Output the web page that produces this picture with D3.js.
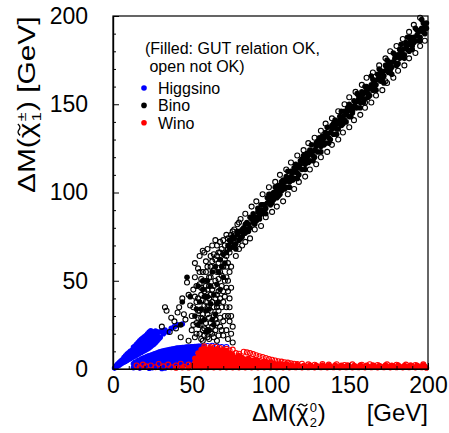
<!DOCTYPE html>
<html><head><meta charset="utf-8">
<script src="https://cdn.jsdelivr.net/npm/d3@7"></script>
<style>
html,body{margin:0;padding:0;background:#fff;}
text{font-family:"Liberation Sans",Arial,Helvetica,sans-serif;fill:#000;}
</style></head>
<body>
<svg id="c" width="449" height="433"></svg>
<script>
// ---- data (ΔM(χ2^0), ΔM(χ1^±)) in GeV ----
const xTicks = [0, 50, 100, 150, 200];
const yTicks = [0, 50, 100, 150, 200];
const legendLabels = ["Higgsino", "Bino", "Wino"];
const legendNote = ["(Filled: GUT relation OK,", " open not OK)"];

const higgsinoFilled = [
[1,0.5],[2,1],[2,1.8],[3,2],[3,2.8],[4,2.2],[4,3.6],[5,3],[5,4.5],[6,3.5],[6,5.2],[7,4],[7,5.5],[7,6.5],
[8,4.4],[8,6],[8,7.5],[9,5],[9,6.8],[9,8.4],[10,5.5],[10,7.4],[10,9.2],[11,6],[11,8],[11,10],[12,6.5],[12,8.5],[12,10.5],
[13,7],[13,9],[13,11],[13,12.3],[14,7.5],[14,9.8],[14,11.8],[14,13],[15,8],[15,10.3],[15,12.4],[15,14],
[16,8.5],[16,11],[16,13],[16,15],[17,9],[17,11.5],[17,13.8],[17,16],[18,9.5],[18,12],[18,14.5],[18,16.8],
[19,10],[19,12.6],[19,15],[19,17.5],[20,10.5],[20,13.2],[20,15.8],[20,18.2],[21,11],[21,14],[21,16.5],[21,19],
[22,11.5],[22,14.6],[22,17.2],[22,20],[23,12],[23,15],[23,18],[23,21],[24,12.8],[24,16],[24,19.5],[24,21.6],
[25,13.5],[25,17],[25,20.5],[26,14.2],[26,18],[26,21],[27,15],[27,19],[27,21.5],[28,16],[28,20],
[29,17],[29,21],[30,18],[31,21.5],[32,20],[33,22],[35,21],[37,23],[39,24],[41,25],[44,25.5],
[13,3],[13,0.8],[15,4],[15,1.5],[17,5],[17,2.5],[17,0.5],[19,6],[19,3.5],[19,1],[21,6.8],[21,4.2],[21,1.6],
[23,7.5],[23,5],[23,2.4],[23,0.4],[25,8],[25,5.6],[25,3],[25,0.8],[27,8.8],[27,6.2],[27,3.6],[27,1.2],
[29,9.4],[29,6.8],[29,4.2],[29,1.6],[31,10],[31,7.4],[31,4.8],[31,2.2],[31,0.3],[33,10.4],[33,7.8],[33,5.2],[33,2.6],[33,0.6],
[35,10.8],[35,8.2],[35,5.6],[35,3],[35,1],[37,11.2],[37,8.6],[37,6],[37,3.4],[37,1.2],[39,11.5],[39,9],[39,6.4],[39,3.8],[39,1.4],
[41,11.8],[41,9.3],[41,6.8],[41,4.2],[41,1.6],[43,12],[43,9.6],[43,7],[43,4.5],[43,2],[45,12.2],[45,9.8],[45,7.2],[45,4.8],[45,2.2],
[47,12.4],[47,10],[47,7.4],[47,5],[47,2.4],[49,12.5],[49,10.2],[49,7.6],[49,5.2],[51,12.6],[51,10.3],[51,7.8],[53,12.7],[53,10.4],[55,12.8],[57,12.8],
[14,3.8],[16,4.8],[18,5.6],[20,6.4],[22,7.2],[24,7.8],[26,8.5],[28,9.1],[30,9.7],[32,10.2],[34,10.6],[36,11],[38,11.3],[40,11.7],
[42,11.9],[44,12.1],[46,12.3],[48,12.4],[50,12.6],[52,12.7],[54,12.8],[56,12.8],
[14,1.5],[16,2.8],[18,3.6],[20,4],[22,4.6],[24,5.3],[26,6],[28,6.5],[30,7],[32,7.6],[34,8],[36,8.4],[38,8.8],[40,9.2],[42,9.4],
[44,9.6],[46,9.9],[48,10],[50,10.2],[20,1.8],[22,2],[24,2.5],[26,3.2],[28,3.8],[30,4.5],[32,5],[34,5.4],[36,5.8],[38,6.2],
[40,6.6],[42,7],[44,7.3],[46,7.5],[48,7.7],[30,1.5],[34,2.2],[38,2.6],[42,3],[46,3.2],[50,5]
];
const higgsinoOpen = [
[60,13],[63,13.2],[66,12.8],[69,12.5],[72,12.5],[38,7],[42,7.5],[46,6.8],[50,7.5],[53,6],[56,8],[44,4.5],[36,2]
];

const binoFilled = [
[72,66],[73,70],[74,68],[75,72],[76,69],[77,74],[78,71],[79,76],[80,73],[81,78],[82,75],[83,80],[84,77],[85,79],[86,82],
[87,80],[88,85],[89,83],[90,86],[91,84],[92,89],[93,87],[94,90],[95,88],[96,93],[97,91],[98,94],[99,96],[100,93],[101,98],
[102,96],[103,99],[104,101],[105,98],[106,103],[107,101],[108,104],[109,106],[110,103],[111,108],[112,106],[113,109],[114,111],
[115,108],[116,113],[117,111],[118,114],[119,116],[120,113],[121,118],[122,116],[123,119],[124,121],[125,118],[126,123],[127,121],
[128,124],[129,126],[130,123],[131,128],[132,126],[133,129],[134,131],[135,128],[136,133],[137,131],[138,134],[139,136],[140,133],
[141,138],[142,136],[143,139],[144,141],[145,138],[146,143],[147,141],[148,144],[149,146],[150,143],[151,148],[152,146],[153,149],
[154,151],[155,148],[156,153],[157,151],[158,154],[159,156],[160,153],[161,158],[162,156],[163,159],[164,161],[165,158],[166,163],
[167,161],[168,164],[169,166],[170,163],[171,168],[172,166],[173,169],[174,171],[175,168],[176,173],[177,171],[178,174],[179,176],
[180,173],[181,178],[182,176],[183,179],[184,181],[185,178],[186,183],[187,181],[188,184],[189,186],[190,183],[191,188],[192,186],
[193,189],[194,191],[195,188],[196,193],[197,191],[198,194],[199,196],
[74,73],[77,70],[79,78],[83,77],[84,82],[87,86],[90,82],[92,91],[95,93],[97,88],[99,99],[102,100],[104,97],[107,106],[109,102],
[111,112],[114,107],[116,116],[118,110],[121,121],[124,117],[126,127],[128,120],[131,131],[134,127],[136,137],[138,130],[141,141],
[143,136],[145,146],[148,140],[150,150],[152,145],[155,156],[157,148],[160,160],[162,154],[164,166],[167,158],[169,170],[171,164],
[174,175],[176,169],[178,179],[180,172],[183,184],[185,176],[187,188],[190,181],[192,193],[194,186],[196,198],[198,190],
[76,75],[78,68],[81,74],[82,79],[85,83],[86,78],[89,88],[91,86],[93,85],[94,93],[96,89],[98,97],[100,99],[101,94],[103,103],
[105,104],[106,99],[108,107],[110,109],[112,103],[113,112],[115,114],[117,108],[119,118],[120,119],[122,113],[123,122],[125,124],
[127,118],[129,128],[130,129],[132,123],[133,132],[135,134],[137,128],[139,138],[140,139],[142,133],[144,143],[146,139],[147,146],
[149,148],[151,143],[153,152],[154,148],[156,155],[158,157],[159,151],[161,160],[163,155],[165,164],[166,160],[168,167],[170,169],
[172,162],[173,172],[175,174],[177,167],[179,178],[181,173],[182,181],[184,177],[186,185],[188,180],[189,188],[191,185],[193,192],
[195,186],[197,196],[199,193],
[52,30],[54,25],[55,38],[57,45],[58,28],[59,33],[60,50],[61,22],[62,37],[63,55],[64,42],[65,31],[66,48],[67,38],[68,62],
[69,58],[70,65],[56,34],[60,41],[63,28],[54,47],[44,38],[47,52],[43,25],[49,41],
[53,34],[56,27],[58,41],[59,21],[61,34],[62,47],[64,25],[65,58],[66,37],[67,55],[68,45],[70,52],[71,60],[57,50]
];
const binoOpen = [
[76,78],[80,83],[84,88],[88,92],[91,95],[95,99],[99,103],[103,106],[106,110],[110,113],[113,117],[117,121],[121,124],[124,128],
[128,131],[132,135],[135,139],[139,142],[143,146],[147,150],[150,154],[154,157],[158,161],[161,165],[165,168],[169,172],[173,176],
[176,180],[180,183],[184,187],[188,191],[191,195],[195,199],
[80,68],[84,72],[87,74],[90,79],[94,81],[97,86],[101,89],[104,92],[108,95],[111,99],[115,102],[118,106],[122,109],[125,113],
[129,116],[132,120],[136,123],[139,127],[143,130],[146,134],[150,137],[153,141],[157,144],[160,148],[164,151],[167,155],[171,158],
[174,162],[178,165],[181,169],[185,172],[188,176],[192,179],[195,183],[198,186],[173,163],[160,151],
[31,24],[34,33],[33,35],[39,27],[42,35],[44,40],[46,28],[47,49],[48,42],[49,36],[50,30],[50,22],[51,45],[52,52],[52,18],[53,38],
[53,26],[54,57],[54,33],[55,48],[55,20],[56,42],[56,29],[57,55],[57,16],[58,36],[58,23],[59,47],[59,61],[60,31],[60,18],[61,52],
[61,40],[62,26],[62,58],[63,45],[63,20],[64,35],[64,65],[65,50],[65,28],[66,42],[66,16],[67,60],[67,33],[68,55],[68,24],[69,47],
[69,68],[70,38],[70,19],[71,62],[71,30],[72,52],[72,22],[73,44],[73,17],[74,35],[74,27],[75,20],[75,58],[76,15],[70,73],[72,76],
[66,70],[62,64],[58,66],[45,31],[41,32],[37,29],[36,21],[40,23],[43,18],[48,16],
[52,60],[55,64],[57,67],[60,68],[63,70],[65,73],[67,66],[68,72],[71,70],[73,74],[75,76],[77,79],[79,82],[81,85],[78,64],[82,70],
[74,40],[75,30],[76,24],[73,50],[72,58],[75,46],
[51,25],[51,35],[52,41],[53,47],[53,20],[54,29],[54,40],[55,25],[55,33],[55,55],[56,17],[56,46],[56,51],[57,22],[57,31],[57,39],
[58,19],[58,44],[58,50],[59,26],[59,38],[59,55],[60,22],[60,35],[60,45],[60,58],[61,17],[61,29],[61,47],[62,21],[62,33],[62,42],
[62,52],[63,24],[63,38],[63,61],[64,18],[64,30],[64,47],[64,56],[65,22],[65,40],[65,62],[66,26],[66,35],[66,55],[66,64],[67,19],
[67,44],[67,51],[68,29],[68,40],[68,66],[69,22],[69,35],[69,53],[70,27],[70,44],[70,58],[71,41],[71,50],[71,66],[72,35],[72,46],
[72,64],[73,30],[73,60],[74,55],[74,66],[76,70],[73,68]
];

const winoFilled = [
[52,1],[52,3.5],[52,6],[54,1.5],[54,4],[54,6.5],[54,9],[56,0.8],[56,3.2],[56,5.8],[56,8.4],[56,11],
[58,1.5],[58,4],[58,6.5],[58,9],[58,11.8],[60,0.8],[60,3.2],[60,5.8],[60,8.4],[60,11],[62,1.5],[62,4],[62,6.5],[62,9],[62,11.8],
[64,0.8],[64,3.2],[64,5.8],[64,8.4],[64,11],[66,1.5],[66,4],[66,6.5],[66,9],[66,11.5],[68,0.8],[68,3.2],[68,5.8],[68,8.4],[68,10.8],
[70,1.5],[70,4],[70,6.5],[70,9],[70,11],[72,0.8],[72,3.2],[72,5.8],[72,8.4],[72,10.5],[74,1.5],[74,4],[74,6.5],[74,9],
[76,0.8],[76,3.2],[76,5.8],[76,8.2],[78,1.5],[78,4],[78,6.5],[80,0.8],[80,3.2],[80,5.8],[80,7.6],[82,1.5],[82,4],[82,6.5],
[84,0.8],[84,3.2],[84,5.5],[86,1.5],[86,4],[86,6],[88,0.8],[88,3.2],[88,5],[90,1.5],[90,3.8],[90,5.2],[92,0.8],[92,3],[92,4.6],
[94,1.5],[94,3.6],[96,0.8],[96,3],[96,4.4],[98,1.5],[98,3.5],[100,0.8],[100,2.8],[100,4],[102,1.5],[102,3.2],[104,0.8],[104,2.6],
[106,1.5],[106,3],[108,0.8],[108,2.4],[110,1.5],[110,2.8],
[112,0.8],[114,1.6],[116,0.9],[118,1.7],[120,0.8],[122,1.6],[124,0.9],[126,1.5],[128,0.8],[130,1.6],[132,0.9],[134,1.5],[136,0.8],
[138,1.6],[140,0.9],[142,1.5],[144,0.8],[146,1.6],[148,0.9],[150,1.5],[152,0.8],[154,1.6],[156,0.9],[158,1.5],[160,0.8],[162,1.6],
[164,0.9],[166,1.5],[168,0.8],[170,1.6],[172,0.9],[174,1.5],[176,0.8],[178,1.6],[180,0.9],[182,1.5],[184,0.8],[186,1.6],[188,0.9],
[190,1.5],[192,0.8],[194,1.6],[196,0.9],[198,1.5],[199,0.6],
[113,2.2],[117,2.4],[121,2],[125,2.3],[129,2.1],[133,2.2],[137,2],[141,2.3],[145,2.1],[149,2.2],[153,2],[157,2.3],[161,2.1],
[165,2.2],[169,2],[173,2.3],[177,2.1],[181,2.2],[185,2],[189,2.3],[193,2.1],[197,2.2],
[40,0.6],[44,0.8],[48,0.7],[50,2]
];
const winoOpen = [
[15,2],[17,1],[19,2.5],[21,1.5],[24,2],[27,1],[29,2.8],[32,1.5],[35,2.5],[37,1],[40,2],[43,3],[45,1.2],[48,2.5],[50,1],[53,2],
[56,6],[58,12.8],[60,10],[62,12.5],[64,9],[65,12.6],[67,7],[68,11.8],[70,8],[72,11.4],[74,10.5],[76,11],[78,9],[80,8.6],
[83,9.8],[85,9.4],[87,9],[89,8.4],[91,7.8],[93,7.2],[95,6.8],[97,6.2],[99,5.6],[101,5.2],[103,4.8],[105,4.4],[107,4.2],[109,3.8],
[111,3.6],[113,3.2],[115,3],[117,2.8],
[120,3],[124,2.6],[128,2.4],[133,2.8],[137,2.5],[142,2.7],[147,2.3],[152,2.6],[158,2.4],[163,2.7],[168,2.3],[174,2.6],[180,2.4],
[186,2.5],[192,2.3],[197,2.6]
];

const seriesColors = {Higgsino: "#0000ff", Bino: "#000000", Wino: "#ff0000"};

// ---- drawing ----
const svg = d3.select("#c");
const x = d3.scaleLinear().domain([0, 200]).range([113, 428]);
const y = d3.scaleLinear().domain([0, 200]).range([369, 16]);

const plot = svg.append("g");
function openPts(data, col) {
  plot.append("g").selectAll("circle").data(data).join("circle")
    .attr("cx", d => x(d[0])).attr("cy", d => y(d[1])).attr("r", 2.5)
    .attr("fill", "none").attr("stroke", col).attr("stroke-width", 1.1);
}
function filledPts(data, col) {
  plot.append("g").selectAll("circle").data(data).join("circle")
    .attr("cx", d => x(d[0])).attr("cy", d => y(d[1])).attr("r", 2.8)
    .attr("fill", col);
}
filledPts(higgsinoFilled, seriesColors.Higgsino);
openPts(higgsinoOpen, seriesColors.Higgsino);
openPts(binoOpen, seriesColors.Bino);
filledPts(binoFilled, seriesColors.Bino);
filledPts(winoFilled, seriesColors.Wino);
openPts(winoOpen, seriesColors.Wino);

// frame
svg.append("rect").attr("x", 113).attr("y", 16).attr("width", 315).attr("height", 353)
  .attr("fill", "none").attr("stroke", "#000").attr("stroke-width", 1.2);

const minor = d3.range(0, 201, 10).filter(v => v % 50 !== 0);
svg.append("g").attr("transform", "translate(0,369)")
  .call(d3.axisBottom(x).tickValues(xTicks).tickSize(-6).tickSizeOuter(0).tickPadding(8).tickFormat(d3.format("d")));
svg.append("g").attr("transform", "translate(0,369)")
  .call(d3.axisBottom(x).tickValues(minor).tickSize(-3).tickSizeOuter(0).tickFormat(""));
svg.append("g").attr("transform", "translate(113,0)")
  .call(d3.axisLeft(y).tickValues(yTicks).tickSize(-6).tickSizeOuter(0).tickPadding(25).tickFormat(d3.format("d")));
svg.append("g").attr("transform", "translate(113,0)")
  .call(d3.axisLeft(y).tickValues(minor).tickSize(-3).tickSizeOuter(0).tickFormat(""));
svg.selectAll(".domain").attr("stroke-width", 1.2);
svg.selectAll(".tick line").attr("stroke-width", 1);
svg.selectAll(".tick text").attr("font-size", 23)
  .attr("font-family", '"Liberation Sans",Arial,sans-serif').attr("fill", "#000");

// ---- axis titles: ΔM(χ̃ ^sup _sub) ----
function textW(str, fs) {
  const t = svg.append("text").attr("font-size", fs).text(str);
  const w = t.node().getComputedTextLength();
  t.remove();
  return w;
}
function chiTitle(g, x0, y0, sup, sub, tail) {
  const t = g.append("text").attr("x", x0).attr("y", y0).attr("font-size", 24);
  t.append("tspan").text("ΔM(");
  t.append("tspan").text("χ");
  const wSup = textW(sup, 13);
  t.append("tspan").attr("font-size", 13).attr("dx", 1).attr("dy", -9).text(sup);
  t.append("tspan").attr("font-size", 13).attr("dx", -wSup).attr("dy", 15).text(sub);
  t.append("tspan").attr("dy", -6).attr("dx", 1).text(")" + tail);
  // tilde over χ drawn as a small curve
  const e = t.node().getExtentOfChar(3);
  const cx = e.x + e.width / 2 + 0.5, ty = y0 - 16;
  g.append("path")
    .attr("d", `M${cx - 4.5},${ty + 1.2} Q${cx - 2.4},${ty - 2.4} ${cx},${ty} T${cx + 4.5},${ty - 1.2}`)
    .attr("fill", "none").attr("stroke", "#000").attr("stroke-width", 1.3);
  return t;
}

// x title
const gxT = svg.append("g");
chiTitle(gxT, 252, 421, "0", "2", "");
gxT.append("text").attr("x", 428).attr("y", 421).attr("text-anchor", "end").attr("font-size", 24).text("[GeV]");

// y title (rotated, stretched along its length to the reference's extent)
const gyOuter = svg.append("g");
const gyT = gyOuter.append("g");
const ytText = chiTitle(gyT, 0, 0, "±", "1", " [GeV]");
const yW = ytText.node().getComputedTextLength();
gyOuter.attr("transform", `translate(35,193) rotate(-90) scale(${183 / yW},1)`);

// legend
svg.append("text").attr("x", 145).attr("y", 54).attr("font-size", 16).text(legendNote[0]);
svg.append("text").attr("x", 145).attr("y", 71.5).attr("font-size", 16)
  .style("white-space", "pre").text(legendNote[1]);
legendLabels.forEach((lab, i) => {
  const yy = 88 + i * 17.4;
  svg.append("circle").attr("cx", 144).attr("cy", yy).attr("r", 2.8).attr("fill", seriesColors[lab]);
  svg.append("text").attr("x", 158).attr("y", yy + 5.7).attr("font-size", 16).text(lab);
});
</script>
</body></html>
